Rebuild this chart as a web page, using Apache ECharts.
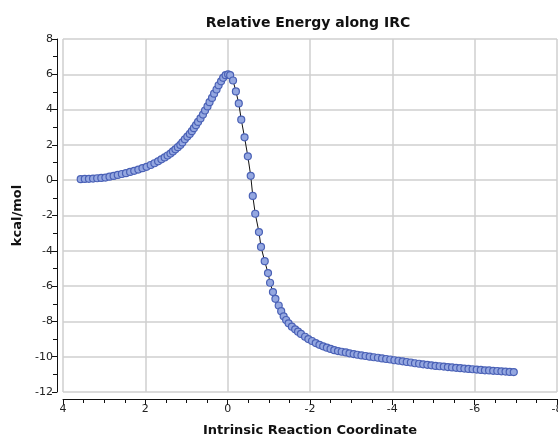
<!DOCTYPE html>
<html>
<head>
<meta charset="utf-8">
<script src="https://cdn.jsdelivr.net/npm/echarts@6/dist/echarts.min.js"></script>
<style>
html,body{margin:0;padding:0;background:#fff;}
#chart{width:558px;height:437px;}
</style>
</head>
<body>
<div id="chart"></div>
<script>
const titleText = "Relative Energy along IRC";
const xAxisName = "Intrinsic Reaction Coordinate";
const yAxisName = "kcal/mol";

const irc = [
  3.57, 3.47, 3.37, 3.27, 3.17, 3.07, 2.97, 2.87, 2.77, 2.67, 2.57, 2.47, 2.37, 2.27, 2.17, 2.07,
  1.97, 1.87, 1.78, 1.69, 1.61, 1.53, 1.46, 1.39, 1.33, 1.27, 1.21, 1.15, 1.10, 1.04, 0.98, 0.92,
  0.87, 0.82, 0.77, 0.72, 0.66, 0.60, 0.55, 0.49, 0.44, 0.38, 0.33, 0.27, 0.22, 0.16, 0.11, 0.05,
  -0.01, -0.06, -0.13, -0.20, -0.27, -0.33, -0.41, -0.49, -0.56, -0.61, -0.67, -0.76, -0.81, -0.90,
  -0.98, -1.03, -1.10, -1.16, -1.24, -1.30, -1.36, -1.42, -1.48, -1.56, -1.64, -1.71, -1.78, -1.88,
  -1.96, -2.05, -2.14, -2.23, -2.32, -2.41, -2.50, -2.59, -2.68, -2.77, -2.87, -2.96, -3.06, -3.15,
  -3.25, -3.35, -3.45, -3.55, -3.65, -3.75, -3.85, -3.95, -4.05, -4.15, -4.25, -4.35, -4.45, -4.55,
  -4.65, -4.75, -4.85, -4.95, -5.05, -5.15, -5.25, -5.35, -5.45, -5.55, -5.65, -5.75, -5.85, -5.95,
  -6.05, -6.15, -6.25, -6.35, -6.45, -6.55, -6.65, -6.75, -6.85, -6.95
];
const energy = [
  0.06, 0.07, 0.08, 0.09, 0.11, 0.13, 0.15, 0.20, 0.24, 0.30, 0.35, 0.40, 0.47, 0.53, 0.60, 0.68,
  0.76, 0.86, 0.96, 1.07, 1.18, 1.29, 1.40, 1.51, 1.63, 1.75, 1.87, 2.00, 2.14, 2.32, 2.47, 2.62,
  2.78, 2.95, 3.12, 3.30, 3.50, 3.72, 3.95, 4.18, 4.42, 4.66, 4.90, 5.14, 5.38, 5.60, 5.80, 5.95,
  6.00, 5.95, 5.65, 5.03, 4.35, 3.43, 2.43, 1.35, 0.25, -0.89, -1.90, -2.94, -3.78, -4.59,
  -5.26, -5.81, -6.34, -6.72, -7.10, -7.42, -7.71, -7.92, -8.11, -8.30, -8.45, -8.58, -8.71, -8.87,
  -9.00, -9.11, -9.23, -9.33, -9.41, -9.49, -9.56, -9.63, -9.68, -9.72, -9.76, -9.81, -9.85, -9.89,
  -9.93, -9.96, -10.00, -10.03, -10.06, -10.10, -10.13, -10.16, -10.20, -10.23, -10.26, -10.30, -10.33, -10.37,
  -10.40, -10.43, -10.46, -10.49, -10.52, -10.54, -10.56, -10.59, -10.61, -10.63, -10.65, -10.67, -10.69, -10.71,
  -10.73, -10.75, -10.77, -10.78, -10.80, -10.81, -10.83, -10.84, -10.86, -10.87
];
const xRange = [-8, 4];
const yRange = [-12, 8];
const tickStep = 2;

const points = irc.map((x, i) => [x, energy[i]]);
const font = "DejaVu Sans";

const chart = echarts.init(document.getElementById('chart'), null, {renderer: 'canvas'});
chart.setOption({
  animation: false,
  backgroundColor: '#fff',
  title: {
    text: titleText,
    left: 303, top: 11, textAlign: 'center',
    textStyle: {fontFamily: font, fontWeight: 'bold', fontSize: 14, color: '#111'}
  },
  grid: {left: 63, right: 1, top: 39, bottom: 45, containLabel: false, outerBoundsMode: 'none'},
  xAxis: {
    type: 'value', inverse: true, min: xRange[0], max: xRange[1], interval: tickStep,
    offset: 7,
    name: xAxisName, nameLocation: 'middle', nameGap: 25,
    nameTextStyle: {fontFamily: font, fontWeight: 'bold', fontSize: 13, color: '#111'},
    axisLine: {show: true, onZero: false, lineStyle: {color: '#111', width: 1}},
    axisTick: {show: true, inside: false, length: 6, lineStyle: {color: '#111'}},
    minorTick: {show: true, splitNumber: 4, length: 4, lineStyle: {color: '#111'}},
    axisLabel: {fontFamily: font, fontSize: 11, color: '#222', margin: 5,
      formatter: v => String(v)},
    splitLine: {show: true, lineStyle: {color: '#cfcfcf', width: 1.5}}
  },
  yAxis: {
    type: 'value', min: yRange[0], max: yRange[1], interval: tickStep,
    offset: 6,
    name: yAxisName, nameLocation: 'middle', nameGap: 32, nameRotate: 90,
    nameTextStyle: {fontFamily: font, fontWeight: 'bold', fontSize: 13, color: '#111'},
    axisLine: {show: true, onZero: false, lineStyle: {color: '#111', width: 1}},
    axisTick: {show: true, inside: false, length: 5, lineStyle: {color: '#111'}},
    minorTick: {show: true, splitNumber: 2, length: 4, lineStyle: {color: '#111'}},
    axisLabel: {fontFamily: font, fontSize: 11, color: '#222', margin: 4,
      formatter: v => String(v)},
    splitLine: {show: true, lineStyle: {color: '#cfcfcf', width: 1.5}}
  },
  series: [{
    type: 'line',
    data: points,
    symbol: 'circle',
    symbolSize: 7,
    showSymbol: true,
    lineStyle: {color: '#111', width: 1},
    itemStyle: {color: '#94a7e0', borderColor: '#4a61b6', borderWidth: 1.2},
    emphasis: {disabled: true}
  }]
});
</script>
</body>
</html>
